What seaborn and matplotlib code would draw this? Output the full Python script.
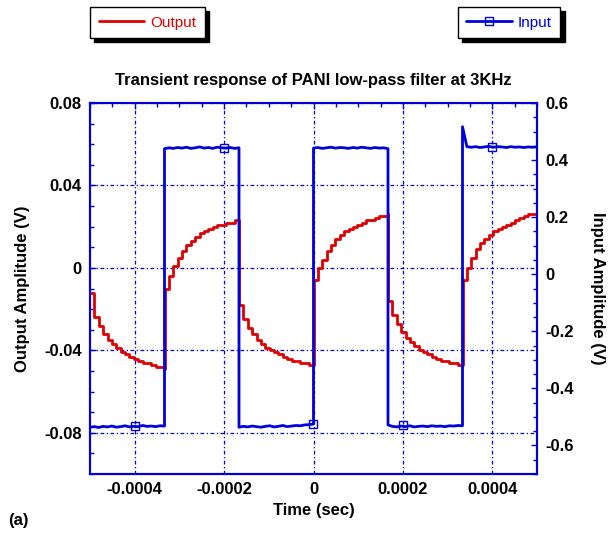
import numpy as np
import pandas as pd
import seaborn as sns
import matplotlib.pyplot as plt
from matplotlib.lines import Line2D
from matplotlib.ticker import MultipleLocator

# half period of the 3 kHz square drive
H = 1 / 6000
seg_starts = [-3 * H, -2 * H, -H, 0, H, 2 * H]

# output amplitude (V), 18 samples per half period
out_segs = [
    [-0.012, -0.024, -0.028, -0.032, -0.035, -0.037, -0.039, -0.041, -0.042,
     -0.043, -0.044, -0.045, -0.046, -0.046, -0.047, -0.048, -0.048, -0.049],
    [-0.010, -0.004, 0.001, 0.005, 0.008, 0.011, 0.013, 0.015, 0.017,
     0.018, 0.019, 0.020, 0.021, 0.021, 0.022, 0.022, 0.023, 0.023],
    [-0.018, -0.025, -0.029, -0.032, -0.035, -0.037, -0.039, -0.040, -0.041,
     -0.042, -0.043, -0.044, -0.045, -0.045, -0.046, -0.046, -0.047, -0.047],
    [-0.006, 0.000, 0.004, 0.008, 0.011, 0.014, 0.016, 0.018, 0.019,
     0.020, 0.021, 0.022, 0.023, 0.023, 0.024, 0.025, 0.025, 0.026],
    [-0.016, -0.023, -0.027, -0.031, -0.034, -0.036, -0.038, -0.040, -0.041,
     -0.042, -0.043, -0.044, -0.045, -0.045, -0.046, -0.046, -0.047, -0.047],
    [-0.006, 0.000, 0.005, 0.009, 0.012, 0.014, 0.016, 0.018, 0.019,
     0.020, 0.021, 0.022, 0.023, 0.024, 0.025, 0.026, 0.026, 0.027],
]

# input amplitude (V)
in_segs = [
    [-0.536, -0.534, -0.537, -0.533, -0.535, -0.532, -0.536, -0.534, -0.531,
     -0.535, -0.533, -0.534, -0.530, -0.533, -0.532, -0.534, -0.531, -0.532],
    [0.440, 0.443, 0.441, 0.444, 0.442, 0.445, 0.441, 0.443, 0.446,
     0.442, 0.444, 0.441, 0.445, 0.443, 0.442, 0.444, 0.441, 0.443],
    [-0.536, -0.533, -0.535, -0.532, -0.534, -0.536, -0.533, -0.531, -0.535,
     -0.533, -0.530, -0.534, -0.532, -0.530, -0.531, -0.528, -0.527, -0.525],
    [0.442, 0.444, 0.441, 0.443, 0.445, 0.442, 0.444, 0.443, 0.441,
     0.444, 0.442, 0.445, 0.443, 0.441, 0.444, 0.442, 0.443, 0.440],
    [-0.528, -0.533, -0.535, -0.532, -0.534, -0.531, -0.535, -0.533, -0.532,
     -0.534, -0.531, -0.533, -0.532, -0.534, -0.531, -0.532, -0.530, -0.531],
    [0.517, 0.447, 0.445, 0.447, 0.444, 0.446, 0.448, 0.445, 0.447,
     0.446, 0.444, 0.447, 0.445, 0.446, 0.444, 0.446, 0.445, 0.446],
]

marker_t = [-0.0004, -0.0002, 0.0, 0.0002, 0.0004]
marker_v = [-0.533, 0.443, -0.525, -0.530, 0.445]

x_ticks = [-0.0004, -0.0002, 0.0, 0.0002, 0.0004]
x_labels = ['-0.0004', '-0.0002', '0', '0.0002', '0.0004']
left_ticks = [0.08, 0.04, 0.0, -0.04, -0.08]
left_labels = ['0.08', '0.04', '0', '-0.04', '-0.08']
right_ticks = [0.6, 0.4, 0.2, 0.0, -0.2, -0.4, -0.6]
right_labels = ['0.6', '0.4', '0.2', '0', '-0.2', '-0.4', '-0.6']

rows = []
for start, o, i in zip(seg_starts, out_segs, in_segs):
    for t, ov, iv in zip(np.linspace(start, start + H, len(o)), o, i):
        rows.append((t, ov, iv))
df = pd.DataFrame(rows, columns=['t', 'output', 'input'])

sns.set_theme(style='white')
plt.rcParams['font.family'] = ['Liberation Sans', 'DejaVu Sans']
plt.rcParams['axes.unicode_minus'] = False
plt.rcParams['text.color'] = 'black'
plt.rcParams['axes.labelcolor'] = 'black'

red = '#dd0000'
blue = '#0000dd'
grid_ls = (0, (3, 2, 1, 2))

fig = plt.figure(figsize=(6.08, 5.36), dpi=100)
ax = fig.add_axes([90 / 608, 1 - 474 / 536, 447 / 608, 371 / 536])
ax2 = ax.twinx()

sns.lineplot(data=df, x='t', y='output', ax=ax, color=red, lw=2,
             drawstyle='steps-post', estimator=None, sort=False)
sns.lineplot(data=df, x='t', y='input', ax=ax2, color=blue, lw=2,
             estimator=None, sort=False)
ax2.plot(marker_t, marker_v, 's', mfc='none', mec=blue, ms=6, mew=1)

ax.set_xlim(-3 * H, 3 * H)
ax.set_ylim(-0.1, 0.08)
ax2.set_ylim(-0.7, 0.6)

ax.set_xticks(x_ticks, x_labels)
ax.xaxis.set_minor_locator(MultipleLocator(0.00005))
ax.set_yticks(left_ticks, left_labels)
ax.yaxis.set_minor_locator(MultipleLocator(0.01))
ax2.set_yticks(right_ticks, right_labels)
ax2.yaxis.set_minor_locator(MultipleLocator(0.05))

for a in (ax, ax2):
    for sp in a.spines.values():
        sp.set_color(blue)
        sp.set_linewidth(1.5)
    for lab in a.get_xticklabels() + a.get_yticklabels():
        lab.set_fontweight('bold')
        lab.set_fontsize(12)

ax.tick_params(which='both', direction='in', color=blue, labelcolor='black',
               top=True, right=False, pad=6)
ax.tick_params(which='major', length=4, width=1)
ax.tick_params(which='minor', length=3, width=1)
ax2.tick_params(axis='y', which='both', direction='in', color=blue,
                labelcolor='black', pad=6)
ax2.tick_params(axis='y', which='major', length=4, width=1)
ax2.tick_params(axis='y', which='minor', length=3, width=1)

ax.grid(True, which='major', color=blue, linestyle=grid_ls, lw=0.9)
ax.set_axisbelow(True)

ax.set_title('Transient response of PANI low-pass filter at 3KHz',
             fontsize=12, fontweight='bold', pad=13, color='black')
ax.set_xlabel('Time (sec)', fontsize=12, fontweight='bold', labelpad=4)
ax.set_ylabel('Output Amplitude (V)', fontsize=12, fontweight='bold', labelpad=10)
ax2.set_ylabel('Input Amplitude (V)', fontsize=12, fontweight='bold',
               rotation=270, va='bottom', labelpad=12)

shadow = {'color': 'black', 'alpha': 1, 'ox': 3, 'oy': -3}
h_out = Line2D([], [], color=red, lw=2)
h_in = Line2D([], [], color=blue, lw=2, marker='s', mfc='none', mec=blue, ms=6)
for h, lab, col, xc in [(h_out, 'Output', red, 147.5), (h_in, 'Input', blue, 509)]:
    leg = fig.legend(handles=[h], labels=[lab], loc='center',
                     bbox_to_anchor=(xc / 608, 1 - 22.5 / 536),
                     frameon=True, fancybox=False, shadow=shadow,
                     framealpha=1, edgecolor='black', fontsize=11,
                     handlelength=3.0, handletextpad=0.4, borderpad=0.55)
    leg.get_frame().set_linewidth(1)
    for txt in leg.get_texts():
        txt.set_color(col)

fig.text(8 / 608, 1 - 520 / 536, '(a)', fontsize=12, fontweight='bold',
         va='center', ha='left')

fig.savefig('out.png', dpi=100)
